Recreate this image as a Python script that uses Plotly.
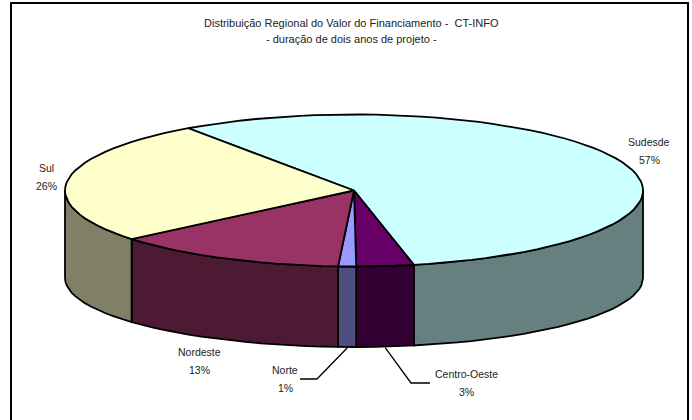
import math
import plotly.graph_objects as go

# --- data ---
categories = ["Sudesde", "Centro-Oeste", "Norte", "Nordeste", "Sul"]
values = [56.4, 3.2, 1.0, 13.1, 26.3]
percent_labels = ["57%", "3%", "1%", "13%", "26%"]
top_colors = ["#CCFFFF", "#660066", "#9999FF", "#993366", "#FFFFCC"]
side_colors = ["#668080", "#330033", "#4D4D80", "#4D1A33", "#808066"]
title_lines = ["Distribuição Regional do Valor do Financiamento -  CT-INFO",
               "- duração de dois anos de projeto -"]

# --- layout constants (pixels) ---
W, H = 692, 420
CX, RX = 354, 289
TOP_CY, TOP_RY = 190.5, 76
BOT_CY, BOT_RY = 278, 69
START = 125.0
LW = 1.8
label_pos = {"Sudesde": (649, 142), "Centro-Oeste": (466, 374), "Norte": (285, 370),
             "Nordeste": (199, 352), "Sul": (46, 168)}
elbows = {"Centro-Oeste": ((411, 383), (430, 383)), "Norte": ((317, 379), (300, 379))}


def top_pt(t):
    r = math.radians(t)
    return CX + RX * math.cos(r), TOP_CY - TOP_RY * math.sin(r)


def bot_pt(t):
    r = math.radians(t)
    return CX + RX * math.cos(r), BOT_CY - BOT_RY * math.sin(r)


def arc(fn, a, b, step=3.0):
    n = max(2, int(abs(b - a) / step))
    return [fn(a + (b - a) * i / n) for i in range(n + 1)]


fig = go.Figure()


def poly(pts, fill, closed=True, color="black", width=LW):
    xs = [p[0] for p in pts]
    ys = [p[1] for p in pts]
    if closed:
        xs.append(xs[0])
        ys.append(ys[0])
    fig.add_trace(go.Scatter(x=xs, y=ys, mode="lines",
                             fill="toself" if fill else None,
                             fillcolor=fill, hoverinfo="skip",
                             line=dict(color=color, width=width, shape="linear"),
                             showlegend=False))


total = sum(values)
spans = []
t = START
for v in values:
    t2 = t - v / total * 360
    spans.append((t, t2))
    t = t2

# side walls (visible part: lower half of the ellipse)
for (a, b), col in zip(spans, side_colors):
    lo, hi = b, a
    for shift in (0, 360):
        l, h = lo + shift, hi + shift
        l2, h2 = max(l, -180), min(h, 0)
        if h2 > l2 and l < 0:
            poly(arc(top_pt, h2, l2) + arc(bot_pt, l2, h2), col)

# top faces
for (a, b), col in zip(spans, top_colors):
    poly([(CX, TOP_CY)] + arc(top_pt, a, b), col)

# leader lines start at the middle of the slice on the lower rim
for (a, b), cat in zip(spans, categories):
    if cat in elbows:
        mid = (a + b) / 2
        p = bot_pt(mid)
        poly([(p[0], p[1] + 1), elbows[cat][0], elbows[cat][1]], None, closed=False, width=1.3)

ann = []
FONT = dict(family="Liberation Sans, Arial, sans-serif", size=10.5, color="#222222")


def text(x, y, s, size=None):
    f = dict(FONT)
    if size:
        f["size"] = size
    ann.append(dict(x=x, y=y, xref="x", yref="y", text=s, showarrow=False, font=f,
                    xanchor="center", yanchor="middle"))


text(351.5, 23, title_lines[0], 11)
text(351.5, 39, title_lines[1], 11)
for cat, pct in zip(categories, percent_labels):
    x, y = label_pos[cat]
    text(x, y, cat)
    text(x, y + 18, pct)

fig.update_layout(
    width=W, height=H, autosize=False,
    margin=dict(l=0, r=0, t=0, b=0),
    paper_bgcolor="white", plot_bgcolor="white",
    xaxis=dict(range=[0, W], visible=False, fixedrange=True),
    yaxis=dict(range=[H, 0], visible=False, fixedrange=True),
    annotations=ann,
    showlegend=False,
)
# the frame's bottom edge lies below the visible window
fig.add_shape(type="rect", xref="x", yref="y", x0=11, x1=688, y0=3, y1=430,
              line=dict(color="black", width=2), layer="below")
fig.write_html("out.html", config={"displayModeBar": False},
               post_script="document.body.style.margin='0';document.body.style.overflow='hidden';")
